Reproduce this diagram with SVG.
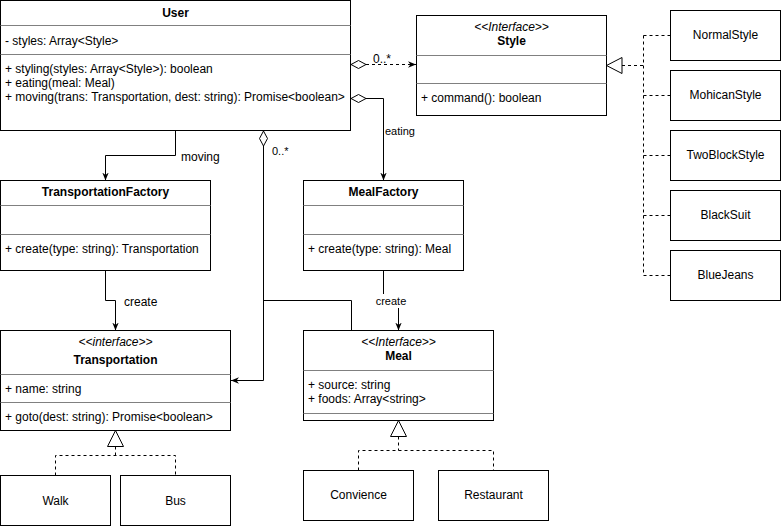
<svg xmlns="http://www.w3.org/2000/svg" width="781" height="526" viewBox="0 0 781 526">
  <defs>
    <style>
      text { font-family: "Liberation Sans", Helvetica, Arial, sans-serif; font-size: 12px; fill: #000; }
      .box { fill: #fff; stroke: #000; stroke-width: 1; }
      .div { stroke: #808080; stroke-width: 1; fill: none; }
      .title { font-weight: bold; text-anchor: middle; }
      .stereo { font-style: italic; text-anchor: middle; }
      .mid { text-anchor: middle; }
      .lbl { font-size: 11px; }
      .edge { fill: none; stroke: #000; stroke-width: 1; }
      .dash { stroke-dasharray: 3 3; }
      .hollow { fill: #fff; stroke: #000; stroke-width: 1; }
    </style>
    <marker id="arrow" viewBox="0 0 10 10" refX="10" refY="5" markerWidth="8" markerHeight="8" markerUnits="userSpaceOnUse" orient="auto">
      <path d="M0,1 L10,5 L0,9 L3,5 Z" fill="#000"/>
    </marker>
  </defs>

  <!-- connectors -->
  <g id="connectors">
    <!-- User -> Style (aggregation, 0..*) -->
    <path class="edge dash" d="M366,64.5 H416" marker-end="url(#arrow)"/>
    <polygon class="hollow" points="351,64.5 358.5,60.5 366,64.5 358.5,68.5"/>
    <text x="373" y="63">0..*</text>

    <!-- User -> MealFactory (eating) -->
    <path class="edge" d="M366,98.5 H383.5 V180.5" marker-end="url(#arrow)"/>
    <polygon class="hollow" points="351,98.5 358.5,94.5 366,98.5 358.5,102.5"/>
    <text class="lbl" x="385" y="135">eating</text>

    <!-- User -> TransportationFactory (moving) -->
    <path class="edge" d="M175.5,130.5 V155.5 H105.5 V180.5" marker-end="url(#arrow)"/>
    <text x="181" y="161">moving</text>

    <!-- User -> Transportation / Meal (aggregation, 0..*) -->
    <path class="edge" d="M263.5,146 V380.5 H231" marker-end="url(#arrow)"/>
    <path class="edge" d="M263.5,300.5 H351.5 V330.5"/>
    <polygon class="hollow" points="263.5,131 267.5,138.5 263.5,146 259.5,138.5"/>
    <text class="lbl" x="272" y="155">0..*</text>

    <!-- TransportationFactory -> Transportation (create) -->
    <path class="edge" d="M105.5,270.5 V300.5 H115.5 V330.5" marker-end="url(#arrow)"/>
    <text x="124" y="306">create</text>

    <!-- MealFactory -> Meal (create) -->
    <path class="edge" d="M383.5,270.5 V300.5 H398.5 V330.5" marker-end="url(#arrow)"/>
    <rect x="375" y="294" width="33" height="14" fill="#fff"/>
    <text class="lbl mid" x="391" y="305">create</text>

    <!-- Style realizations -->
    <path class="edge dash" d="M622,65.5 H643.5 M643.5,35.5 V275.5 M643.5,35.5 H670 M643.5,95.5 H670 M643.5,155.5 H670 M643.5,215.5 H670 M643.5,275.5 H670"/>
    <polygon class="hollow" points="606.5,65.5 622,57.5 622,73.5"/>

    <!-- Transportation realizations -->
    <path class="edge dash" d="M115.5,446.5 V455.5 M55.5,475.5 V455.5 H175.5 V475.5"/>
    <polygon class="hollow" points="115.5,430.5 123.5,446.5 107.5,446.5"/>

    <!-- Meal realizations -->
    <path class="edge dash" d="M398.5,436.5 V450.5 M358.5,470.5 V450.5 H493.5 V470.5"/>
    <polygon class="hollow" points="398.5,420.5 406.5,436.5 390.5,436.5"/>
  </g>

  <!-- User -->
  <g id="user">
    <rect class="box" x="0.5" y="0.5" width="350" height="130"/>
    <path class="div" d="M0.5,25.5 H350.5 M0.5,54.5 H350.5"/>
    <text class="title" x="175.5" y="17">User</text>
    <text x="5" y="45">- styles: Array&lt;Style&gt;</text>
    <text x="5" y="73">+ styling(styles: Array&lt;Style&gt;): boolean</text>
    <text x="5" y="87">+ eating(meal: Meal)</text>
    <text x="5" y="101">+ moving(trans: Transportation, dest: string): Promise&lt;boolean&gt;</text>
  </g>

  <!-- Style -->
  <g id="style">
    <rect class="box" x="416.5" y="15.5" width="190" height="100"/>
    <path class="div" d="M416.5,55.5 H606.5 M416.5,83.5 H606.5"/>
    <text class="stereo" x="511.5" y="31">&lt;&lt;Interface&gt;&gt;</text>
    <text class="title" x="511.5" y="45">Style</text>
    <text x="421" y="102">+ command(): boolean</text>
  </g>

  <g id="normal-style">
    <rect class="box" x="670.5" y="10.5" width="110" height="50"/>
    <text class="mid" x="725.5" y="39">NormalStyle</text>
  </g>
  <g id="mohican-style">
    <rect class="box" x="670.5" y="70.5" width="110" height="50"/>
    <text class="mid" x="725.5" y="99">MohicanStyle</text>
  </g>
  <g id="two-block-style">
    <rect class="box" x="670.5" y="130.5" width="110" height="50"/>
    <text class="mid" x="725.5" y="159">TwoBlockStyle</text>
  </g>
  <g id="black-suit">
    <rect class="box" x="670.5" y="190.5" width="110" height="50"/>
    <text class="mid" x="725.5" y="219">BlackSuit</text>
  </g>
  <g id="blue-jeans">
    <rect class="box" x="670.5" y="250.5" width="110" height="50"/>
    <text class="mid" x="725.5" y="279">BlueJeans</text>
  </g>

  <!-- TransportationFactory -->
  <g id="transportation-factory">
    <rect class="box" x="0.5" y="180.5" width="210" height="90"/>
    <path class="div" d="M0.5,205.5 H210.5 M0.5,234.5 H210.5"/>
    <text class="title" x="105.5" y="196">TransportationFactory</text>
    <text x="5" y="253">+ create(type: string): Transportation</text>
  </g>

  <!-- MealFactory -->
  <g id="meal-factory">
    <rect class="box" x="303.5" y="180.5" width="160" height="90"/>
    <path class="div" d="M303.5,205.5 H463.5 M303.5,234.5 H463.5"/>
    <text class="title" x="383.5" y="196">MealFactory</text>
    <text x="308" y="253">+ create(type: string): Meal</text>
  </g>

  <!-- Transportation -->
  <g id="transportation">
    <rect class="box" x="0.5" y="330.5" width="230" height="100"/>
    <path class="div" d="M0.5,374.5 H230.5 M0.5,402.5 H230.5"/>
    <text class="stereo" x="115.5" y="346">&lt;&lt;interface&gt;&gt;</text>
    <text class="title" x="115.5" y="364">Transportation</text>
    <text x="5" y="393">+ name: string</text>
    <text x="5" y="421">+ goto(dest: string): Promise&lt;boolean&gt;</text>
  </g>

  <g id="walk">
    <rect class="box" x="0.5" y="475.5" width="110" height="50"/>
    <text class="mid" x="55.5" y="505">Walk</text>
  </g>
  <g id="bus">
    <rect class="box" x="120.5" y="475.5" width="110" height="50"/>
    <text class="mid" x="175.5" y="505">Bus</text>
  </g>

  <!-- Meal -->
  <g id="meal">
    <rect class="box" x="303.5" y="330.5" width="190" height="90"/>
    <path class="div" d="M303.5,370.5 H493.5 M303.5,413.5 H493.5"/>
    <text class="stereo" x="398.5" y="346">&lt;&lt;Interface&gt;&gt;</text>
    <text class="title" x="398.5" y="360">Meal</text>
    <text x="308" y="389">+ source: string</text>
    <text x="308" y="403">+ foods: Array&lt;string&gt;</text>
  </g>

  <g id="convience">
    <rect class="box" x="303.5" y="470.5" width="110" height="50"/>
    <text class="mid" x="358.5" y="499">Convience</text>
  </g>
  <g id="restaurant">
    <rect class="box" x="438.5" y="470.5" width="110" height="50"/>
    <text class="mid" x="493.5" y="499">Restaurant</text>
  </g>
</svg>
